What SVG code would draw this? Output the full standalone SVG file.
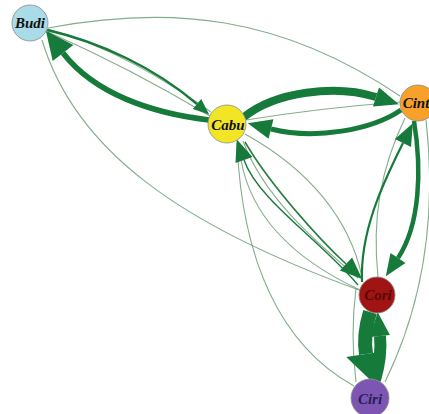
<svg xmlns="http://www.w3.org/2000/svg" width="429" height="414" viewBox="0 0 429 414">
  <style>
    .thin { fill: none; stroke: #6f9f78; stroke-width: 1.1; stroke-opacity: 0.85; }
    .mid { fill: none; stroke: #2f7f45; stroke-width: 1.6; }
    .thick { fill: none; stroke: #167a3a; }
    .node { stroke: #8a8a8a; stroke-width: 0.8; }
    .lbl { font-family: "Liberation Serif", "DejaVu Serif", serif; font-style: italic; font-weight: bold; font-size: 15px; text-anchor: middle; }
  </style>
  <defs>
    <marker id="ah-xl" markerUnits="userSpaceOnUse" markerWidth="26" markerHeight="40" refX="0" refY="20" orient="auto" overflow="visible">
      <path d="M0,0 L26,20 L0,40 Z" fill="#167a3a"/>
    </marker>
    <marker id="ah-big" markerUnits="userSpaceOnUse" markerWidth="28" markerHeight="26" refX="0" refY="13" orient="auto" overflow="visible">
      <path d="M0,0 L28,13 L0,26 Z" fill="#167a3a"/>
    </marker>
    <marker id="ah-lg" markerUnits="userSpaceOnUse" markerWidth="24" markerHeight="20" refX="0" refY="10" orient="auto" overflow="visible">
      <path d="M0,0 L24,10 L0,20 Z" fill="#167a3a"/>
    </marker>
    <marker id="ah-md" markerUnits="userSpaceOnUse" markerWidth="22" markerHeight="18" refX="0" refY="9" orient="auto" overflow="visible">
      <path d="M0,0 L22,9 L0,18 Z" fill="#167a3a"/>
    </marker>
    <marker id="ah-sm" markerUnits="userSpaceOnUse" markerWidth="16" markerHeight="13" refX="0" refY="6.5" orient="auto" overflow="visible">
      <path d="M0,0 L16,6.5 L0,13 Z" fill="#167a3a"/>
    </marker>
  </defs>

  <rect width="429" height="414" fill="#ffffff"/>

  <g id="connectors">
    <!-- thin links -->
    <path class="thin" d="M48,28 C170,5 280,15 400,96"/>
    <path class="thin" d="M48,32 Q130,68 210,116"/>
    <path class="thin" d="M48,29 C110,46 165,80 211,112"/>
    <path class="thin" d="M42,40 C75,150 180,225 359,290"/>
    <path class="thin" d="M246,120 Q320,108 400,102"/>
    <path class="thin" d="M237,143 C242,260 280,345 354,386"/>
    <path class="thin" d="M243,141 C265,200 320,245 358,278"/>
    <path class="thin" d="M245,134 C310,170 350,220 362,277"/>
    <path class="thin" d="M360,290 C300,262 252,222 241,160"/>
    <path class="thin" d="M405,118 C380,170 372,220 378,277"/>
    <path class="thin" d="M426,120 C435,200 430,290 385,382"/>
    <path class="thin" d="M356,288 C352,320 352,350 356,382"/>
    <path class="mid" d="M245,142 C270,185 320,240 346,264" marker-end="url(#ah-md)"/>

    <!-- Budi / Cabu -->
    <path class="thick" stroke-width="5.5" d="M209,120 C150,113 94,93 63,53" marker-end="url(#ah-big)"/>
    <path class="thick" stroke-width="2.4" d="M47,30 C100,42 155,68 197,104" marker-end="url(#ah-sm)"/>

    <!-- Cabu / Cint -->
    <path class="thick" stroke-width="8" d="M244,117 C275,92 335,84 376,97" marker-end="url(#ah-lg)"/>
    <path class="thick" stroke-width="5" d="M401,110 C372,130 315,140 271,129" marker-end="url(#ah-lg)"/>

    <!-- Cori / Cabu -->
    <path class="thick" stroke-width="1.4" d="M358,285 C320,240 258,200 244,160" marker-end="url(#ah-md)"/>

    <!-- Cint / Cori -->
    <path class="thick" stroke-width="4.5" d="M414,121 C422,170 420,225 398,258" marker-end="url(#ah-md)"/>
    <path class="thick" stroke-width="2.2" d="M362,282 C360,232 382,185 403,143" marker-end="url(#ah-md)"/>

    <!-- Cori / Ciri -->
    <path class="thick" stroke-width="14" d="M370,312 Q363,335 366,354" marker-end="url(#ah-xl)"/>
    <path class="thick" stroke-width="12" d="M375,380 Q382,356 380,336" marker-end="url(#ah-lg)"/>
  </g>

  <g id="node-budi">
    <circle class="node" cx="30" cy="23" r="18" fill="#a9dbe9"/>
    <text class="lbl" x="30" y="28" fill="#111111">Budi</text>
  </g>
  <g id="node-cabu">
    <circle class="node" cx="227" cy="124" r="19" fill="#f2e526"/>
    <text class="lbl" x="228" y="130" fill="#111111">Cabu</text>
  </g>
  <g id="node-cint">
    <circle class="node" cx="418" cy="103" r="18" fill="#f7a12a"/>
    <text class="lbl" x="416" y="108" fill="#111111">Cint</text>
  </g>
  <g id="node-cori">
    <circle class="node" cx="377" cy="295" r="18" fill="#a01414"/>
    <text class="lbl" x="378" y="300" fill="#5a0808" font-size="13">Cori</text>
  </g>
  <g id="node-ciri">
    <circle class="node" cx="370" cy="398" r="19" fill="#7d55b3"/>
    <text class="lbl" x="370" y="404" fill="#2a1f55" font-size="13">Ciri</text>
  </g>
</svg>
